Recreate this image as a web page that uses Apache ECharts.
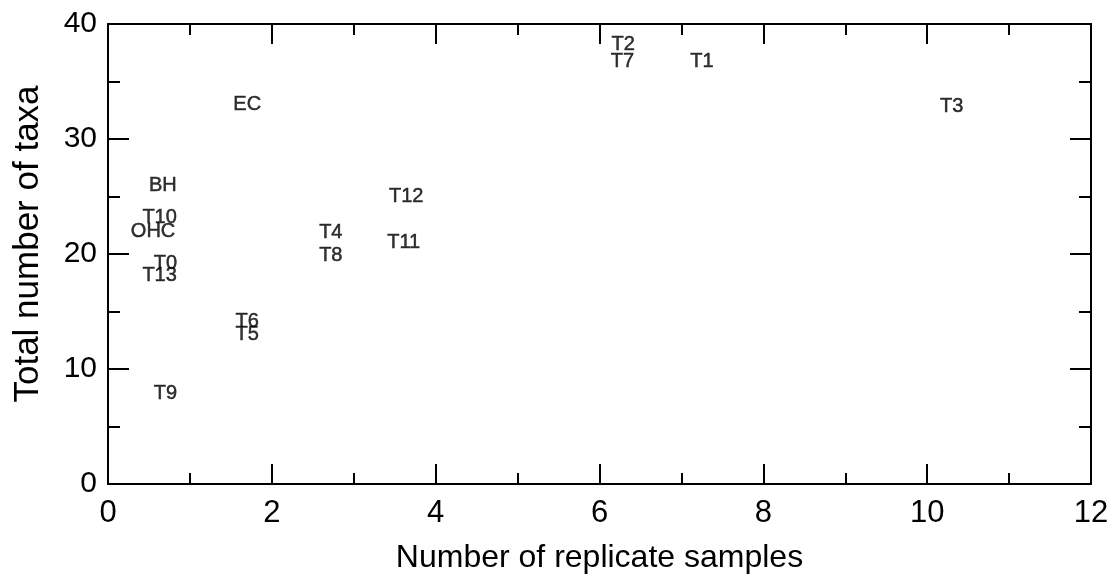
<!DOCTYPE html>
<html>
<head>
<meta charset="utf-8">
<script src="https://cdn.jsdelivr.net/npm/echarts@6/dist/echarts.min.js"></script>
<style>html,body{margin:0;padding:0;background:#fff}#c{width:1110px;height:576px}</style>
</head>
<body>
<div id="c"></div>
<script>
const siteLabels = ['EC','BH','T10','OHC','T0','T13','T9','T6','T5','T4','T8','T12','T11','T2','T7','T1','T3'];
const replicates = [1.7,0.67,0.63,0.55,0.7,0.63,0.7,1.7,1.7,2.72,2.72,3.64,3.61,6.29,6.28,7.25,10.3];
const taxa = [33,26,23.2,22,19.2,18.1,7.9,14.1,13,21.9,19.9,25,21,38.2,36.7,36.7,32.8];
const xTicks = [0,2,4,6,8,10,12];
const yTicks = [0,10,20,30,40];

const font = '"Liberation Sans", Arial, sans-serif';
const chart = echarts.init(document.getElementById('c'), null, {renderer:'canvas'});
const lineStyle = {color:'#000', width:2};
function xAxis(pos, showLabel){
  return {
    type:'value', position:pos, min:0, max:12, interval:2,
    axisLine:{show:true, onZero:false, lineStyle},
    axisTick:{show:true, inside:true, length:20, lineStyle:{color:'#000',width:2}},
    minorTick:{show:true, splitNumber:2, length:11, lineStyle:{color:'#000',width:2}},
    splitLine:{show:false},
    axisLabel:{show:showLabel, margin:14, color:'#000', fontSize:31, fontFamily:font,
      formatter:v=>xTicks.includes(v)?String(v):''},
    name: showLabel ? 'Number of replicate samples' : '',
    nameLocation:'middle', nameGap:58,
    nameTextStyle:{color:'#000', fontSize:32, fontFamily:font}
  };
}
function yAxis(pos, showLabel){
  return {
    type:'value', position:pos, min:0, max:40, interval:10,
    axisLine:{show:true, onZero:false, lineStyle},
    axisTick:{show:true, inside:true, length:21, lineStyle:{color:'#000',width:2}},
    minorTick:{show:true, splitNumber:2, length:12, lineStyle:{color:'#000',width:2}},
    splitLine:{show:false},
    axisLabel:{show:showLabel, margin:11, color:'#000', fontSize:30, fontFamily:font,
      formatter:v=>yTicks.includes(v)?String(v):''},
    name: showLabel ? 'Total number of taxa' : '',
    nameLocation:'middle', nameGap:62,
    nameTextStyle:{color:'#000', fontSize:35, fontFamily:font, padding:[0,0,0,20]}
  };
}
const data = siteLabels.map((n,i)=>({name:n, value:[replicates[i], taxa[i]]}));
chart.setOption({
  animation:false,
  backgroundColor:'#fff',
  grid:{left:108, right:19, top:24, bottom:92, containLabel:false, outerBoundsMode:'none'},
  xAxis:[xAxis('bottom', true), xAxis('top', false)],
  yAxis:[yAxis('left', true), yAxis('right', false)],
  series:[{
    type:'scatter', xAxisIndex:0, yAxisIndex:0,
    symbolSize:1, itemStyle:{color:'rgba(0,0,0,0)'},
    data,
    label:{show:true, position:'inside', formatter:p=>p.name, color:'#000',
      fontSize:20, fontFamily:font, textBorderColor:'#000', textBorderWidth:0.5},
    labelLayout:{hideOverlap:false}
  }]
});
</script>
</body>
</html>
